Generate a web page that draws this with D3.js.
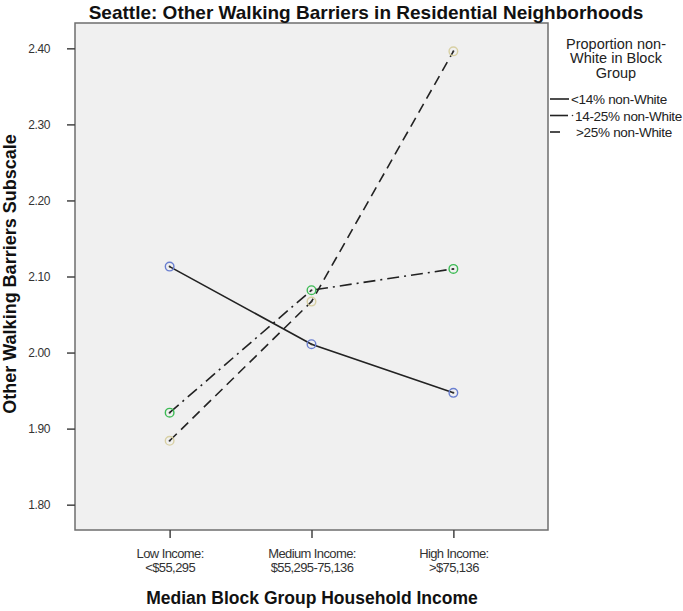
<!DOCTYPE html>
<html>
<head>
<meta charset="utf-8">
<script src="https://cdn.jsdelivr.net/npm/d3@7"></script>
<style>
    body { margin: 0; background: #fff; }
    text { font-family: "Liberation Sans", Arial, sans-serif; }
</style>
</head>
<body>
<svg id="chart"></svg>
<script>
// categories on the x axis (two text lines each)
var categories = ["Low Income:|<$55,295", "Medium Income:|$55,295-75,136", "High Income:|>$75,136"];
// one series per group
var seriesNames = ["<14% non-White", "14-25% non-White", ">25% non-White"];
var lowWhite = [2.113, 2.011, 1.947];
var midWhite = [1.921, 2.082, 2.110];
var highWhite = [1.884, 2.067, 2.396];
var yTicks = [1.80, 1.90, 2.00, 2.10, 2.20, 2.30, 2.40];

var W = 683, H = 611;
var plot = { left: 75, right: 548, top: 23, bottom: 530 };

var svg = d3.select("#chart").attr("width", W).attr("height", H);

var x = d3.scalePoint()
    .domain(categories)
    .range([plot.left, plot.right])
    .padding(0.667);

var y = d3.scaleLinear()
    .domain([1.7667, 2.4333])
    .range([plot.bottom, plot.top]);

// styles per series
var styles = [
    { dash: null, color: "#6a7fd0" },
    { dash: "12,5,2,5", color: "#3dbb55" },
    { dash: "10,6", color: "#d8d0a4" }
];

// plot background
svg.append("rect")
    .attr("x", plot.left)
    .attr("y", plot.top)
    .attr("width", plot.right - plot.left)
    .attr("height", plot.bottom - plot.top)
    .style("fill", "#f0f0f0")
    .style("stroke", "#6e6e6e")
    .style("stroke-width", 1.5);

// y axis
var yAxis = svg.append("g")
    .attr("transform", "translate(" + plot.left + ",0)")
    .call(d3.axisLeft(y).tickValues(yTicks).tickFormat(d3.format(".2f")).tickSize(8).tickPadding(17));
yAxis.select(".domain").remove();
yAxis.selectAll("line").style("stroke", "#444").style("stroke-width", 1.5);
yAxis.selectAll("text")
    .style("font-size", "12px")
    .style("letter-spacing", "-0.4px")
    .style("fill", "#333")
    .style("font-family", "'Liberation Sans', Arial, sans-serif");

// x axis
var xAxis = svg.append("g")
    .attr("transform", "translate(0," + plot.bottom + ")")
    .call(d3.axisBottom(x).tickSize(8).tickFormat(""));
xAxis.select(".domain").remove();
xAxis.selectAll("line").style("stroke", "#444").style("stroke-width", 1.5);
xAxis.selectAll(".tick").each(function(d) {
    var parts = d.split("|");
    var t = d3.select(this).append("text")
        .attr("text-anchor", "middle")
        .style("font-size", "13px")
        .style("letter-spacing", "-0.6px")
        .style("fill", "#333")
        .style("font-family", "'Liberation Sans', Arial, sans-serif");
    t.append("tspan").attr("x", 0).attr("y", 28).text(parts[0]);
    t.append("tspan").attr("x", 0).attr("y", 42).text(parts[1]);
});

// lines and markers
var allSeries = [lowWhite, midWhite, highWhite];
var line = d3.line()
    .x(function(d, i) { return x(categories[i]); })
    .y(function(d) { return y(d); });

allSeries.forEach(function(s, k) {
    svg.append("path")
        .datum(s)
        .attr("d", line)
        .style("fill", "none")
        .style("stroke", "#222")
        .style("stroke-width", 1.6)
        .style("stroke-dasharray", styles[k].dash);
});
allSeries.forEach(function(s, k) {
    svg.selectAll(null)
        .data(s)
        .enter()
        .append("circle")
        .attr("cx", function(d, i) { return x(categories[i]); })
        .attr("cy", function(d) { return y(d); })
        .attr("r", 4.3)
        .style("fill", "none")
        .style("stroke", styles[k].color)
        .style("stroke-width", 1.4);
    svg.selectAll(null)
        .data(s)
        .enter()
        .append("circle")
        .attr("cx", function(d, i) { return x(categories[i]); })
        .attr("cy", function(d) { return y(d); })
        .attr("r", 1)
        .style("fill", "#333");
});

// titles
svg.append("text")
    .attr("x", 366)
    .attr("y", 19)
    .attr("text-anchor", "middle")
    .style("font-size", "19px")
    .style("font-weight", "bold")
    .style("fill", "#111")
    .text("Seattle: Other Walking Barriers in Residential Neighborhoods");

svg.append("text")
    .attr("x", 312)
    .attr("y", 604)
    .attr("text-anchor", "middle")
    .style("font-size", "17.5px")
    .style("font-weight", "bold")
    .style("fill", "#111")
    .text("Median Block Group Household Income");

svg.append("text")
    .attr("transform", "translate(16,274) rotate(-90)")
    .attr("text-anchor", "middle")
    .style("font-size", "18px")
    .style("font-weight", "bold")
    .style("fill", "#111")
    .text("Other Walking Barriers Subscale");

// legend
var legendTitle = ["Proportion non-", "White in Block", "Group"];
svg.selectAll(null)
    .data(legendTitle)
    .enter()
    .append("text")
    .attr("x", 616)
    .attr("y", function(d, i) { return 48.5 + i * 14.8; })
    .attr("text-anchor", "middle")
    .style("font-size", "14.5px")
    .style("fill", "#222")
    .text(function(d) { return d; });

var legendLen = [19, 18, 10];
var legendTextX = [571, 575, 576];
var leg = svg.selectAll(".leg")
    .data(seriesNames)
    .enter()
    .append("g")
    .attr("class", "leg")
    .attr("transform", function(d, i) { return "translate(550," + (99 + i * 16.5) + ")"; });
leg.append("line")
    .attr("x1", 0)
    .attr("x2", function(d, i) { return legendLen[i]; })
    .style("stroke", "#222")
    .style("stroke-width", 1.6);
leg.filter(function(d, i) { return i === 1; })
    .append("circle")
    .attr("cx", 22.5)
    .attr("r", 0.8)
    .style("fill", "#333");
leg.append("text")
    .attr("x", function(d, i) { return legendTextX[i] - 550; })
    .attr("y", 5)
    .style("font-size", "13.5px")
    .style("letter-spacing", "-0.3px")
    .style("fill", "#222")
    .text(function(d) { return d; });
</script>
</body>
</html>
